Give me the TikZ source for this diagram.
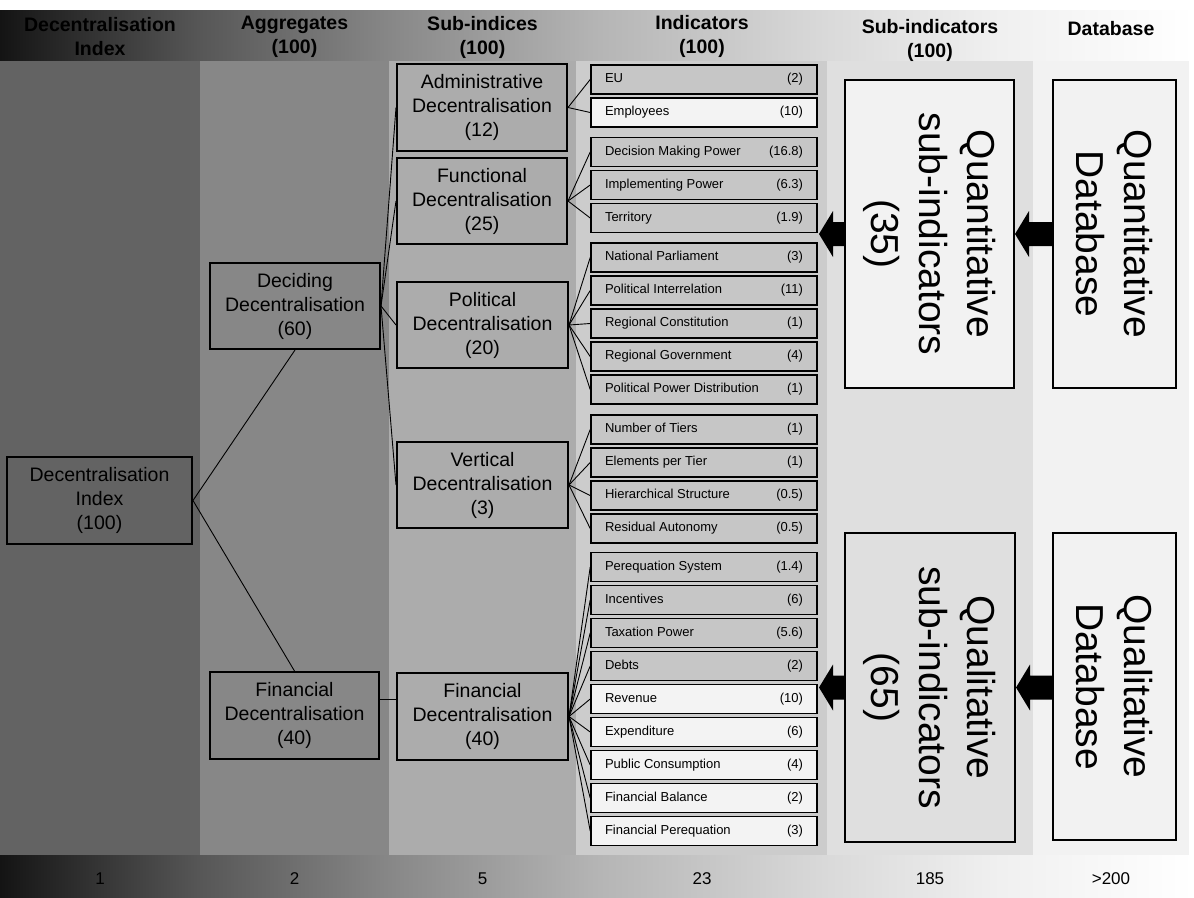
\documentclass[tikz,border=0pt]{standalone}
\usepackage{fontspec}
\setmainfont{Liberation Sans}
\usetikzlibrary{calc}
\pgfdeclarelayer{bg}
\pgfsetlayers{bg,main}
\definecolor{colA}{HTML}{636363}
\definecolor{colB}{HTML}{878787}
\definecolor{colC}{HTML}{ACACAC}
\definecolor{colD}{HTML}{CCCCCC}
\definecolor{colE}{HTML}{DFDFDF}
\definecolor{colF}{HTML}{F2F2F2}
\definecolor{indGray}{HTML}{C6C6C6}
\definecolor{indLight}{HTML}{F3F3F3}
\definecolor{gA}{HTML}{141414}
\definecolor{gB}{HTML}{575757}
\definecolor{gC}{HTML}{8A8A8A}
\definecolor{gD}{HTML}{B5B5B5}
\definecolor{gE}{HTML}{DADADA}
\definecolor{gF}{HTML}{F0F0F0}
\definecolor{gG}{HTML}{FFFFFF}
\pgfdeclarehorizontalshading{bandshade}{100bp}{color(0bp)=(gA); color(25bp)=(gA); color(33.4bp)=(gB); color(41.8bp)=(gC); color(50.1bp)=(gD); color(59.8bp)=(gE); color(66.9bp)=(gF); color(75bp)=(gG); color(100bp)=(gG)}
\newcommand\indlab[2]{\hbox to 198pt{#1\hfill#2}}
\newcommand\myblockarrow[2]{\fill let \p1=(#1), \p2=(#2) in (\x2,\y2) -- (\x2+14pt,\y2+23pt) -- (\x2+14pt,\y2+12pt) -- (\x1,\y2+12pt) -- (\x1,\y2-12pt) -- (\x2+14pt,\y2-12pt) -- (\x2+14pt,\y2-23pt) -- cycle;}
\begin{document}
\begin{tikzpicture}[x=1pt,y=-1pt,
  bigbox/.style={draw, line width=2pt, align=center, font=\fontsize{19.5}{24}\selectfont, inner sep=0pt},
  indbox/.style={draw, line width=1.6pt, minimum width=226pt, minimum height=29pt, inner sep=0pt, font=\fontsize{13}{15}\selectfont},
  vbox/.style={draw, line width=2pt, rotate=-90, align=center, font=\fontsize{39}{48}\selectfont, inner sep=0pt},
  hdr/.style={font=\fontsize{19.5}{24}\selectfont\bfseries, align=center, inner sep=0pt},
  numlab/.style={font=\fontsize{17}{20}\selectfont, inner sep=0pt},
  conn/.style={line width=0.9pt}]
\useasboundingbox (0,0) rectangle (1194,897);
\begin{pgfonlayer}{bg}
\fill[white] (0,0) rectangle (1194,897);
\shade[shading=bandshade] (0,10) rectangle (1194,61);
\shade[shading=bandshade] (0,855) rectangle (1194,897);
\fill[colA] (0,61) rectangle (200,855);
\fill[colB] (200,61) rectangle (389,855);
\fill[colC] (389,61) rectangle (576,855);
\fill[colD] (576,61) rectangle (827,855);
\fill[colE] (827,61) rectangle (1033,855);
\fill[colF] (1033,61) rectangle (1189,855);
\end{pgfonlayer}

% headers
\node[hdr] (h1) at (100,37) {Decentralisation\\Index};
\node[hdr] (h2) at (294.5,37) {Aggregates\\(100)};
\node[hdr] (h3) at (482.5,37) {Sub-indices\\(100)};
\node[hdr] (h4) at (702,36) {Indicators\\(100)};
\node[hdr] (h5) at (930,40) {Sub-indicators\\(100)};
\node[hdr] (h6) at (1111,29) {Database};

% bottom numbers
\node[numlab] (n1) at (100,879) {1};
\node[numlab] (n2) at (294.5,879) {2};
\node[numlab] (n3) at (482.5,879) {5};
\node[numlab] (n4) at (702,879) {23};
\node[numlab] (n5) at (930,879) {185};
\node[numlab] (n6) at (1111,879) {>200};

% main boxes
\node[bigbox, fill=colA, minimum width=185pt, minimum height=87pt] (di) at (99.5,500.5) {Decentralisation\\Index\\(100)};
\node[bigbox, fill=colB, minimum width=170pt, minimum height=86pt] (agD) at (295,306) {Deciding\\Decentralisation\\(60)};
\node[bigbox, fill=colB, minimum width=169pt, minimum height=87pt] (agF) at (294.5,715.5) {Financial\\Decentralisation\\(40)};
\node[bigbox, fill=colC, minimum width=170pt, minimum height=87pt] (sA) at (482,107.5) {Administrative\\Decentralisation\\(12)};
\node[bigbox, fill=colC, minimum width=170pt, minimum height=86pt] (sF) at (482,201) {Functional\\Decentralisation\\(25)};
\node[bigbox, fill=colC, minimum width=171pt, minimum height=86pt] (sP) at (482.5,325) {Political\\Decentralisation\\(20)};
\node[bigbox, fill=colC, minimum width=171pt, minimum height=86pt] (sV) at (482.5,485) {Vertical\\Decentralisation\\(3)};
\node[bigbox, fill=colC, minimum width=171pt, minimum height=87pt] (sFin) at (482.5,716.5) {Financial\\Decentralisation\\(40)};

% indicators
\node[indbox, fill=indGray] (i1) at (704,79.5) {\indlab{EU}{(2)}};
\node[indbox, fill=indLight] (i2) at (704,112.5) {\indlab{Employees}{(10)}};
\node[indbox, fill=indGray] (i3) at (704,152) {\indlab{Decision Making Power}{(16.8)}};
\node[indbox, fill=indGray] (i4) at (704,185) {\indlab{Implementing Power}{(6.3)}};
\node[indbox, fill=indGray] (i5) at (704,218) {\indlab{Territory}{(1.9)}};
\node[indbox, fill=indGray] (i6) at (704,257.5) {\indlab{National Parliament}{(3)}};
\node[indbox, fill=indGray] (i7) at (704,290.5) {\indlab{Political Interrelation}{(11)}};
\node[indbox, fill=indGray] (i8) at (704,323.5) {\indlab{Regional Constitution}{(1)}};
\node[indbox, fill=indGray] (i9) at (704,356.5) {\indlab{Regional Government}{(4)}};
\node[indbox, fill=indGray] (i10) at (704,389.5) {\indlab{Political Power Distribution}{(1)}};
\node[indbox, fill=indGray] (i11) at (704,429.5) {\indlab{Number of Tiers}{(1)}};
\node[indbox, fill=indGray] (i12) at (704,462.5) {\indlab{Elements per Tier}{(1)}};
\node[indbox, fill=indGray] (i13) at (704,495.5) {\indlab{Hierarchical Structure}{(0.5)}};
\node[indbox, fill=indGray] (i14) at (704,528.5) {\indlab{Residual Autonomy}{(0.5)}};
\node[indbox, fill=indGray] (i15) at (704,567) {\indlab{Perequation System}{(1.4)}};
\node[indbox, fill=indGray] (i16) at (704,600) {\indlab{Incentives}{(6)}};
\node[indbox, fill=indGray] (i17) at (704,633) {\indlab{Taxation Power}{(5.6)}};
\node[indbox, fill=indGray] (i18) at (704,666) {\indlab{Debts}{(2)}};
\node[indbox, fill=indLight] (i19) at (704,699) {\indlab{Revenue}{(10)}};
\node[indbox, fill=indLight] (i20) at (704,732) {\indlab{Expenditure}{(6)}};
\node[indbox, fill=indLight] (i21) at (704,765) {\indlab{Public Consumption}{(4)}};
\node[indbox, fill=indLight] (i22) at (704,798) {\indlab{Financial Balance}{(2)}};
\node[indbox, fill=indLight] (i23) at (704,831) {\indlab{Financial Perequation}{(3)}};

% sub-indicator and database boxes (rotated)
\node[vbox, fill=colF, minimum width=308pt, minimum height=169pt] (si1) at (929.5,234) {Quantitative\\sub-indicators\\(35)};
\node[vbox, fill=colF, minimum width=308pt, minimum height=123pt] (db1) at (1114.5,234) {Quantitative\\Database};
\node[vbox, fill=colE, minimum width=309pt, minimum height=170pt] (si2) at (930,687.5) {Qualitative\\sub-indicators\\(65)};
\node[vbox, fill=colF, minimum width=307pt, minimum height=123pt] (db2) at (1114.5,686.5) {Qualitative\\Database};

\coordinate (tipA) at (819,234);
\coordinate (tipB) at (819,687.5);

% connectors
\draw[conn] (di.east) -- (agD.south);
\draw[conn] (di.east) -- (agF.north);
\foreach \t in {sA,sF,sP,sV} \draw[conn] (agD.east) -- (\t.west);
\draw[conn] ([yshift=16pt]agF.east) -- ([yshift=16pt]agF.east -| sFin.west);
\foreach \t in {i1,i2} \draw[conn] (sA.east) -- (\t.west);
\foreach \t in {i3,i4,i5} \draw[conn] (sF.east) -- (\t.west);
\foreach \t in {i6,i7,i8,i9,i10} \draw[conn] (sP.east) -- (\t.west);
\foreach \t in {i11,i12,i13,i14} \draw[conn] (sV.east) -- (\t.west);
\foreach \t in {i15,i16,i17,i18,i19,i20,i21,i22,i23} \draw[conn] (sFin.east) -- (\t.west);

% block arrows
\myblockarrow{si1.south}{tipA}
\myblockarrow{db1.south}{si1.north}
\myblockarrow{si2.south}{tipB}
\myblockarrow{db2.south}{si2.north}
\end{tikzpicture}
\end{document}
